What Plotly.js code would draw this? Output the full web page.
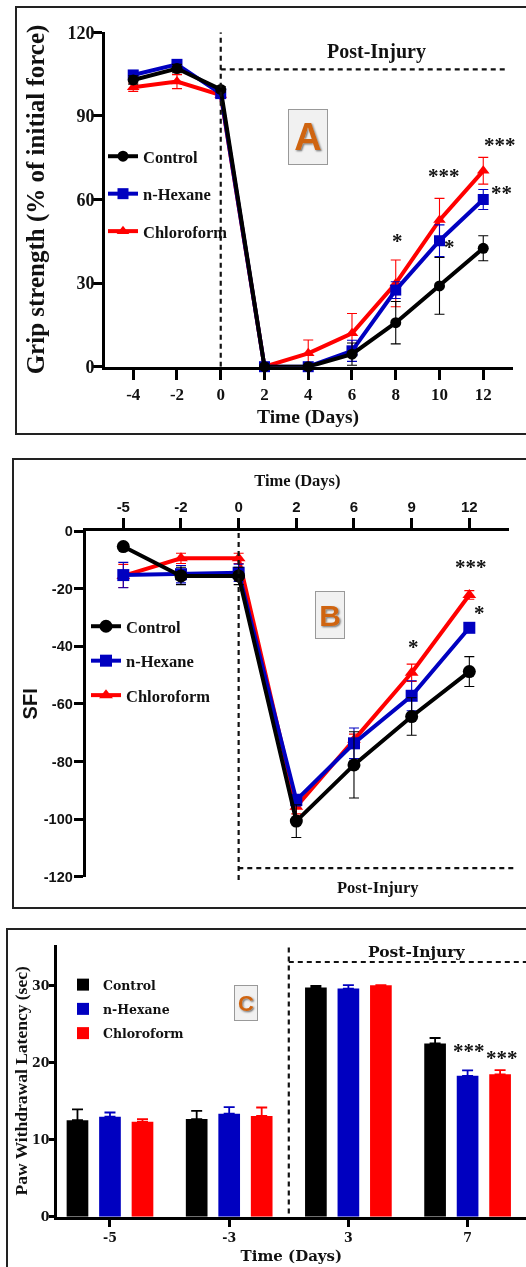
<!DOCTYPE html>
<html><head><meta charset="utf-8">
<script src="https://cdn.plot.ly/plotly-3.0.1.min.js"></script>
<style>html,body{margin:0;padding:0;background:#fff;overflow:hidden}#plot{width:526px;height:1267px;filter:blur(0.45px)}</style>
</head><body><div id="plot"></div>
<script>
const seriesNames = ['Control','n-Hexane','Chloroform'];
const seriesColors = ['#000000','#0000c0','#ff0000'];
const seriesSymbols = ['circle','square','triangle-up'];

// Panel A
const daysA = [-4,-2,0,2,4,6,8,10,12];
const daysALabels = ['-4','-2','0','2','4','6','8','10','12'];
const controlA = [102.9,107,99.5,0,0,4.5,15.8,29,42.5];
const controlAErr = [1.5,1.5,1,0,0,4,7.6,10.2,4.5];
const hexaneA = [104.7,108.5,98,0,0,5.7,27.5,45.2,60];
const hexaneAErr = [1.5,1.5,1.5,0,0,3.8,3,5.7,3.6];
const chloroA = [100.3,102.3,97.5,0,4.8,12,29.9,52.6,70.3];
const chloroAErr = [1.5,2.5,1,0,4.8,7.1,8.4,7.8,4.8];

// Panel B
const daysB = ['-5','-2','0','2','6','9','12'];
const sfiTicks = [0,-20,-40,-60,-80,-100,-120];
const sfiLabels = ['0','-20','-40','-60','-80','-100','-120'];
const controlB = [-5.4,-15.6,-15.6,-100.7,-81.2,-64.4,-48.8];
const controlBErr = [1,3,3,5.7,11.5,6.5,5.2];
const hexaneB = [-15.3,-15,-14.5,-93.4,-73.7,-57.2,-33.6];
const hexaneBErr = [4.4,3,3,2,5.3,5.2,1];
const chloroB = [-15.6,-9.5,-9.5,-95.7,-72.5,-49.2,-22.2];
const chloroBErr = [4,1.8,1.8,2.5,2,3,1.5];

// Panel C
const daysC = ['-5','-3','3','7'];
const controlC = [12.5,12.65,29.7,22.45];
const controlCErr = [1.4,1.05,0.2,0.7];
const hexaneC = [12.95,13.35,29.55,18.25];
const hexaneCErr = [0.55,0.85,0.45,0.7];
const chloroC = [12.3,13.05,30,18.45];
const chloroCErr = [0.35,1.1,0,0.55];

const W = 526, H = 1267;
const px = v => v / W, py = v => 1 - v / H;
const SERIF = '"Liberation Serif", serif', SANS = '"Liberation Sans", Arial, sans-serif', WIDE = '"DejaVu Serif", serif';
const bold = (family, size) => ({family, size, color:'#111', weight:700});

function lineTrace(i, x, y, err, ax, legend, sizes) {
  return {type:'scatter', mode:'lines+markers', name:seriesNames[i], x, y,
    xaxis:'x'+ax, yaxis:'y'+ax, legend, legendgroup:legend+i, legendrank:i+1, cliponaxis:false,
    line:{color:seriesColors[i], width:4},
    marker:{color:seriesColors[i], symbol:seriesSymbols[i], size:sizes[i]},
    error_y:{type:'data', array:err, visible:true, color:seriesColors[i], thickness:1.1, width:5}};
}
function barTrace(i, y, err) {
  return {type:'bar', name:seriesNames[i], x:daysC, y, xaxis:'x3', yaxis:'y3', legend:'legend3', legendgroup:'c'+i,
    marker:{color:seriesColors[i]},
    error_y:{type:'data', symmetric:false, array:err, arrayminus:err.map(()=>0), visible:true, color:seriesColors[i], thickness:1.8, width:5.5}};
}
const sizesA = [11,11,11], sizesB = [13,12,12];
const data = [
  lineTrace(2,daysA,chloroA,chloroAErr,'','legend',sizesA),
  lineTrace(1,daysA,hexaneA,hexaneAErr,'','legend',sizesA),
  lineTrace(0,daysA,controlA,controlAErr,'','legend',sizesA),
  lineTrace(2,daysB,chloroB,chloroBErr,'2','legend2',sizesB),
  lineTrace(1,daysB,hexaneB,hexaneBErr,'2','legend2',sizesB),
  lineTrace(0,daysB,controlB,controlBErr,'2','legend2',sizesB),
  barTrace(0,controlC,controlCErr),
  barTrace(1,hexaneC,hexaneCErr),
  barTrace(2,chloroC,chloroCErr)
];

const axisBase = {showgrid:false, zeroline:false, showline:true, linecolor:'#000', tickcolor:'#000', ticks:'outside', automargin:false};
const dash = {color:'#111', width:2.2, dash:'5px,4px'};
const frame = (x0,y0,y1) => ({type:'rect', xref:'paper', yref:'paper', x0:px(x0), x1:1.02, y0:py(y1), y1:py(y0), line:{color:'#222', width:2}, fillcolor:'rgba(0,0,0,0)', layer:'below'});
const note = (text,xr,yr,x,y,font,extra) => Object.assign({text,xref:xr,yref:yr,x,y,showarrow:false,font,xanchor:'center',yanchor:'middle'},extra||{});
const badge = (letter,cx,cy,w,h,size) => note(letter,'paper','paper',px(cx),py(cy),
  {family:SANS,size,color:'#cf6410',weight:700,shadow:'0 0 2px #fff, 1px 1px 2px #444'},
  {bgcolor:'#f1f1f1',bordercolor:'#999',borderwidth:1,width:w,height:h});
const star = (t,xr,yr,x,y) => note(t,xr,yr,x,y,bold(SERIF,21));

const layout = {
  width:W, height:H, margin:{l:0,r:0,t:0,b:0}, paper_bgcolor:'#fff', plot_bgcolor:'rgba(0,0,0,0)',
  barmode:'group', bargap:0.182, bargroupgap:0.333,
  xaxis:Object.assign({},axisBase,{domain:[px(105),px(513)], range:[-5.29,13.36], anchor:'y', linewidth:3, tickwidth:2.5, ticklen:10,
    tickmode:'array', tickvals:daysA, ticktext:daysALabels, tickfont:bold(SERIF,17)}),
  yaxis:Object.assign({},axisBase,{domain:[py(366.7),py(32.3)], range:[0,120], anchor:'x', linewidth:3, tickwidth:2.5, ticklen:9, ticklabelstandoff:-5,
    tickmode:'array', tickvals:[0,30,60,90,120], tickfont:bold(SERIF,18), title:{text:'Grip strength (% of initial force)', font:bold(SERIF,25), standoff:16}}),
  xaxis2:Object.assign({},axisBase,{domain:[px(85.7),px(509)], type:'category', categoryorder:'array', categoryarray:daysB, range:[-0.652,6.688], anchor:'y2', side:'top', linewidth:3, tickwidth:2.5, ticklen:10,
    tickfont:bold(SANS,15), title:{text:'Time (Days)', font:bold(SERIF,16.5), standoff:8}}),
  yaxis2:Object.assign({},axisBase,{domain:[py(876.7),py(531)], range:[-120,0], anchor:'x2', linewidth:3, tickwidth:2.5, ticklen:9, ticklabelstandoff:-2,
    tickmode:'array', tickvals:sfiTicks, ticktext:sfiLabels, tickfont:bold(SANS,14.5), title:{text:'SFI', font:bold(SANS,20), standoff:1}}),
  xaxis3:Object.assign({},axisBase,{domain:[px(56.7),1], type:'category', categoryorder:'array', categoryarray:daysC, range:[-0.447,3.49], anchor:'y3', linewidth:2.5, tickwidth:2.5, ticklen:8,
    tickfont:bold(WIDE,12.5), title:{text:'Time (Days)', font:bold(WIDE,15), standoff:7}}),
  yaxis3:Object.assign({},axisBase,{domain:[py(1216.7),py(945)], range:[0,35.2], anchor:'x3', linewidth:2.5, tickwidth:2.5, ticklen:5, ticklabelstandoff:-3,
    tickmode:'array', tickvals:[0,10,20,30], tickfont:bold(WIDE,12.5), title:{text:'Paw Withdrawal Latency (sec)', font:bold(SERIF,17.5), standoff:0}}),
  showlegend:true,
  legend:{x:px(103),y:py(139),xanchor:'left',yanchor:'top',bgcolor:'rgba(0,0,0,0)',font:bold(SERIF,16.5),tracegroupgap:13,itemwidth:30,itemclick:false},
  legend2:{x:px(86),y:py(609),xanchor:'left',yanchor:'top',bgcolor:'rgba(0,0,0,0)',font:bold(SERIF,16.5),tracegroupgap:10,itemwidth:30,itemclick:false},
  legend3:{x:px(63),y:py(970),xanchor:'left',yanchor:'top',bgcolor:'rgba(0,0,0,0)',font:bold(WIDE,12.5),tracegroupgap:5,itemwidth:30,itemclick:false},
  shapes:[
    frame(16,7,434), frame(13,459,908), frame(7,929,1290),
    {type:'line',xref:'x',yref:'y',x0:0,x1:0,y0:0,y1:120,line:dash},
    {type:'line',xref:'x',yref:'y',x0:0,x1:13.1,y0:106.7,y1:106.7,line:dash},
    {type:'line',xref:'x2',yref:'paper',x0:2,x1:2,y0:py(880),y1:py(531),line:dash},
    {type:'line',xref:'paper',yref:'y2',x0:px(238.3),x1:px(517),y0:-117,y1:-117,line:dash},
    {type:'line',xref:'x3',yref:'y3',x0:1.5,x1:1.5,y0:0.4,y1:35,line:dash},
    {type:'line',xref:'x3',yref:'y3',x0:1.5,x1:3.49,y0:33,y1:33,line:dash}
  ],
  annotations:[
    note('Time (Days)','x','paper',4,py(416.5),bold(SERIF,19.5)),
    note('Post-Injury','x','y',7.1,113.2,bold(SERIF,20)),
    note('Post-Injury','x2','paper',4.42,py(887),bold(SERIF,16.5)),
    note('Post-Injury','x3','y3',2.57,34.4,bold(WIDE,15.5)),
    badge('A',308,137,36,52,38), badge('B',330,615,26,44,30), badge('C',246,1003,20,32,22),
    star('***','x','y',12.78,79.5), star('***','x','y',10.2,68.3), star('**','x','y',12.84,62.3),
    star('*','x','y',10.47,42.8), star('*','x','y',8.07,45.2),
    star('***','x2','y2',6.03,-12.4), star('*','x2','y2',6.17,-28.6), star('*','x2','y2',5.04,-40.2),
    star('***','x3','y3',3.01,21.45), star('***','x3','y3',3.29,20.5)
  ]
};
Plotly.newPlot('plot', data, layout, {displayModeBar:false});
</script></body></html>
